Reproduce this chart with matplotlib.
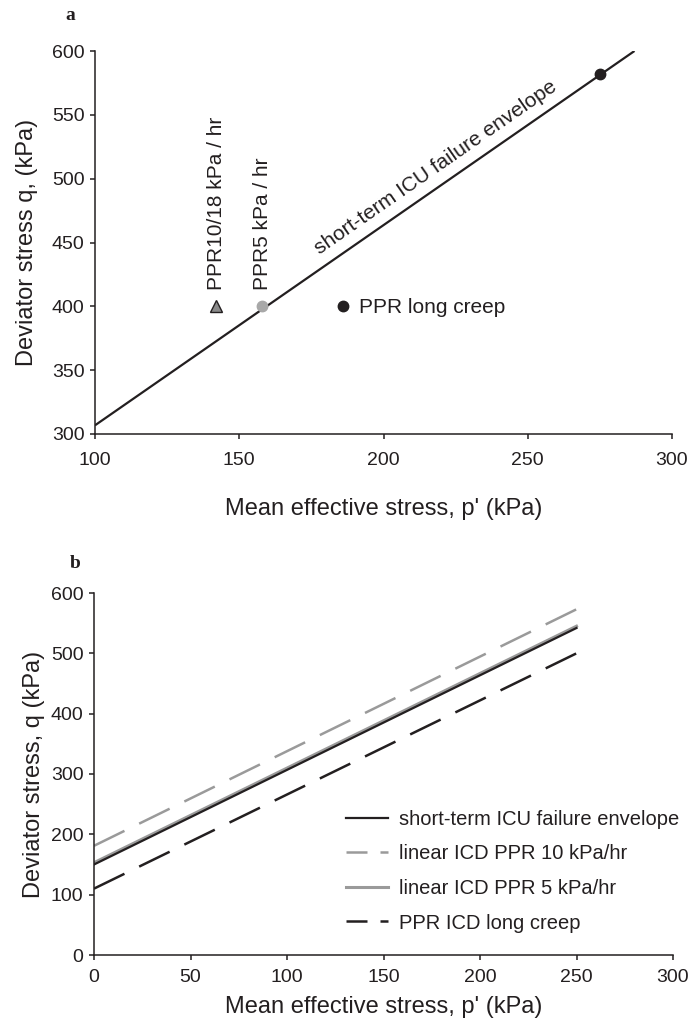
import numpy as np
import matplotlib
matplotlib.use("Agg")
import matplotlib.pyplot as plt
from matplotlib.lines import Line2D

plt.rcParams['font.family'] = ['Liberation Sans', 'DejaVu Sans']

INK = '#231f20'
GREY = '#9a9a9a'

# ---- panel a data ----
env_p = [100, 287]
env_q = [150 + 1.568 * 100, 150 + 1.568 * 287]
tri_p, tri_q = [142], [400]          # PPR10/18 kPa/hr
grey_p, grey_q = [158], [400]        # PPR5 kPa/hr
creep_p, creep_q = [186], [400]      # PPR long creep
icu_p, icu_q = [275], [582]          # short-term ICU point

# ---- panel b data ----
p_b = [0, 250]
q_short = [150, 542]
q_ppr10 = [181, 573]
q_ppr5 = [153, 545]
q_creep = [110, 500]
labels_b = ['short-term ICU failure envelope', 'linear ICD PPR 10 kPa/hr',
            'linear ICD PPR 5 kPa/hr', 'PPR ICD long creep']

a_xticks = [100, 150, 200, 250, 300]
a_yticks = [300, 350, 400, 450, 500, 550, 600]
b_xticks = [0, 50, 100, 150, 200, 250, 300]
b_yticks = [0, 100, 200, 300, 400, 500, 600]

W, H = 691, 1026
DPI = 100
fig = plt.figure(figsize=(W / DPI, H / DPI), dpi=DPI)

axa = fig.add_axes([95 / W, 1 - 434 / H, 577 / W, 383 / H])
axb = fig.add_axes([94 / W, 1 - 955 / H, 579 / W, 362 / H])

for ax in (axa, axb):
    for s in ('top', 'right'):
        ax.spines[s].set_visible(False)
    for s in ('left', 'bottom'):
        ax.spines[s].set_linewidth(1.1)
        ax.spines[s].set_color(INK)
    ax.tick_params(direction='out', length=3.6, width=1.1, color=INK,
                   labelsize=14, labelcolor=INK)

# ---------- panel a ----------
axa.set_xlim(100, 300)
axa.set_ylim(300, 600)
axa.set_xticks(a_xticks)
axa.set_yticks(a_yticks)
axa.tick_params(axis='x', pad=9.5)
axa.tick_params(axis='y', pad=4)

axa.plot(env_p, env_q, color=INK, lw=1.6, solid_capstyle='butt', zorder=2)
axa.plot(tri_p, tri_q, marker='^', ms=8, mfc='#8a8a8a', mec=INK, mew=1.0,
         ls='none', zorder=3, clip_on=False)
axa.plot(grey_p, grey_q, marker='o', ms=7.5, mfc='#a8a8a8', mec='#a8a8a8',
         ls='none', zorder=3)
axa.plot(creep_p, creep_q, marker='o', ms=7.5, mfc=INK, mec=INK,
         ls='none', zorder=3)
axa.plot(icu_p, icu_q, marker='o', ms=7.5, mfc=INK, mec=INK,
         ls='none', zorder=3)

axa.text(tri_p[0], 413, 'PPR10/18 kPa / hr', rotation=90, ha='center',
         va='bottom', fontsize=15, color=INK)
axa.text(grey_p[0], 413, 'PPR5 kPa / hr', rotation=90, ha='center',
         va='bottom', fontsize=15, color=INK)
axa.text(191.5, 399, 'PPR long creep', ha='left', va='center',
         fontsize=15, color=INK)

# label along the envelope, rotated to the line's on-screen angle
d0 = axa.transData.transform((env_p[0], env_q[0]))
d1 = axa.transData.transform((env_p[1], env_q[1]))
ang = np.degrees(np.arctan2(d1[1] - d0[1], d1[0] - d0[0]))
axa.text(218.2, 509, 'short-term ICU failure envelope', rotation=ang,
         rotation_mode='anchor', ha='center', va='center', fontsize=15,
         color=INK)

axa.set_xlabel("Mean effective stress, p' (kPa)", fontsize=17, color=INK)
axa.xaxis.set_label_coords(0.5, -0.166)
axa.set_ylabel("Deviator stress q, (kPa)", fontsize=17, color=INK)
axa.yaxis.set_label_coords(-0.0988, 0.5)

# ---------- panel b ----------
axb.set_xlim(0, 300)
axb.set_ylim(0, 600)
axb.set_xticks(b_xticks)
axb.set_yticks(b_yticks)
axb.tick_params(axis='x', pad=6.5)
axb.tick_params(axis='y', pad=4)


def fitted_dash(ax, xs, ys, lw, dash_pt=23.8, gap_pt=11.5):
    """Dash pattern (in lw units) that starts and ends on a dash."""
    a = ax.transData.transform((xs[0], ys[0]))
    b = ax.transData.transform((xs[-1], ys[-1]))
    length = np.hypot(*(b - a)) * 72 / DPI
    n = max(1, round((length + gap_pt) / (dash_pt + gap_pt)))
    k = (length + gap_pt) / (n * (dash_pt + gap_pt))
    return (0, (dash_pt * k / lw, gap_pt * k / lw))


key_dash = (0, (8.4, 5.2))
styles = [
    dict(color=INK, lw=1.6, ls='-'),
    dict(color=GREY, lw=1.8, ls='--'),
    dict(color=GREY, lw=2.2, ls='-'),
    dict(color=INK, lw=1.8, ls='--'),
]
series = [q_short, q_ppr10, q_ppr5, q_creep]
order_z = [3, 2, 2, 2]
for q, st, z in zip(series, styles, order_z):
    st_line = dict(st)
    if st_line['ls'] == '--':
        st_line['ls'] = fitted_dash(axb, p_b, q, st_line['lw'])
    axb.plot(p_b, q, zorder=z, dash_capstyle='butt', **st_line)

# legend keys use a shorter dash so the pattern reads within the key
handles = []
for st in styles:
    kst = dict(st)
    if kst['ls'] == '--':
        kst['ls'] = key_dash
    handles.append(Line2D([], [], **kst))

axb.legend(handles, labels_b, loc='upper left',
           bbox_to_anchor=(0.435, 0.4006), frameon=False,
           fontsize=14.5, handlelength=2.1, handletextpad=0.55,
           borderpad=0, borderaxespad=0, labelspacing=0.77,
           labelcolor=INK)

axb.set_xlabel("Mean effective stress, p' (kPa)", fontsize=17, color=INK)
axb.xaxis.set_label_coords(0.5, -0.112)
axb.set_ylabel("Deviator stress, q (kPa)", fontsize=17, color=INK)
axb.yaxis.set_label_coords(-0.0846, 0.5)

# panel letters
fig.text(70 / W, 1 - 15 / H, 'a', fontsize=14, fontweight='bold',
         family='Liberation Serif', ha='center', va='center', color=INK)
fig.text(75 / W, 1 - 563 / H, 'b', fontsize=14, fontweight='bold',
         family='Liberation Serif', ha='center', va='center', color=INK)

fig.savefig('out.png', dpi=DPI)
